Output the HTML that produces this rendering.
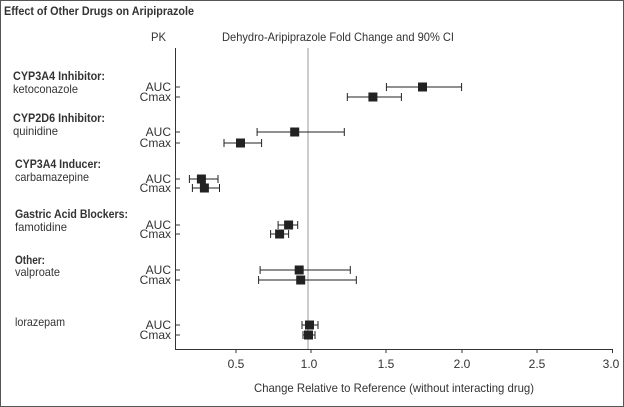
<!DOCTYPE html>
<html><head><meta charset="utf-8"><style>
html,body{margin:0;padding:0;background:#fff}
svg{display:block}
text{font-family:"Liberation Sans",sans-serif;fill:#333}
</style></head><body>
<svg width="624" height="407" viewBox="0 0 624 407" xmlns="http://www.w3.org/2000/svg">
<rect x="0.5" y="0.5" width="623" height="406" fill="#fff" stroke="#555" stroke-width="1"/>
<text x="4" y="15" font-size="12" font-weight="bold" textLength="190" lengthAdjust="spacingAndGlyphs">Effect of Other Drugs on Aripiprazole</text>
<text x="151" y="41" font-size="12" textLength="15" lengthAdjust="spacingAndGlyphs">PK</text>
<text x="222" y="41" font-size="12" textLength="232" lengthAdjust="spacingAndGlyphs">Dehydro-Aripiprazole Fold Change and 90% CI</text>
<g font-size="12">
<text x="13" y="80" font-weight="bold" textLength="92" lengthAdjust="spacingAndGlyphs">CYP3A4 Inhibitor:</text>
<text x="13" y="93" textLength="65" lengthAdjust="spacingAndGlyphs">ketoconazole</text>
<text x="13" y="122" font-weight="bold" textLength="92" lengthAdjust="spacingAndGlyphs">CYP2D6 Inhibitor:</text>
<text x="13" y="135" textLength="45" lengthAdjust="spacingAndGlyphs">quinidine</text>
<text x="15" y="168" font-weight="bold" textLength="86" lengthAdjust="spacingAndGlyphs">CYP3A4 Inducer:</text>
<text x="15" y="181" textLength="74" lengthAdjust="spacingAndGlyphs">carbamazepine</text>
<text x="15" y="218" font-weight="bold" textLength="113" lengthAdjust="spacingAndGlyphs">Gastric Acid Blockers:</text>
<text x="15" y="231" textLength="52" lengthAdjust="spacingAndGlyphs">famotidine</text>
<text x="15" y="264" font-weight="bold" textLength="30" lengthAdjust="spacingAndGlyphs">Other:</text>
<text x="15" y="276" textLength="45" lengthAdjust="spacingAndGlyphs">valproate</text>
<text x="15" y="326" textLength="50" lengthAdjust="spacingAndGlyphs">lorazepam</text>
</g>
<g font-size="12" text-anchor="end">
<text x="171" y="91">AUC</text><text x="171" y="101">Cmax</text>
<text x="171" y="136">AUC</text><text x="171" y="147">Cmax</text>
<text x="171" y="183">AUC</text><text x="171" y="192">Cmax</text>
<text x="171" y="229">AUC</text><text x="171" y="238">Cmax</text>
<text x="171" y="274">AUC</text><text x="171" y="284">Cmax</text>
<text x="171" y="329">AUC</text><text x="171" y="339">Cmax</text>
</g>
<line x1="308" y1="48" x2="308" y2="349" stroke="#bbb" stroke-width="1.5"/>
<g stroke="#333" stroke-width="1" fill="none">
<line x1="175.5" y1="48" x2="175.5" y2="349.5"/>
<line x1="175" y1="349.5" x2="613" y2="349.5"/>
<line x1="236" y1="349" x2="236" y2="353"/><line x1="311" y1="349" x2="311" y2="353"/>
<line x1="386" y1="349" x2="386" y2="353"/><line x1="462" y1="349" x2="462" y2="353"/>
<line x1="537" y1="349" x2="537" y2="353"/><line x1="612.5" y1="349" x2="612.5" y2="353"/>
<path d="M175 87h5M175 97h5M175 132h5M175 143h5M175 179h5M175 188h5M175 225h5M175 234h5M175 270h5M175 280h5M175 325h5M175 335h5"/>
</g>
<g stroke="#222" stroke-width="1" fill="none">
<path d="M386.4 87H461.6M386.4 83v8M461.6 83v8"/>
<path d="M347.3 97H401.4M347.3 93v8M401.4 93v8"/>
<path d="M257.1 132H344.3M257.1 128v8M344.3 128v8"/>
<path d="M224 143H261.6M224 139v8M261.6 139v8"/>
<path d="M189.4 179H218M189.4 175v8M218 175v8"/>
<path d="M192.4 188H219.5M192.4 184v8M219.5 184v8"/>
<path d="M278.1 225H297.7M278.1 221v8M297.7 221v8"/>
<path d="M270.6 234H288.6M270.6 230v8M288.6 230v8"/>
<path d="M260.1 270H350.3M260.1 266v8M350.3 266v8"/>
<path d="M258.6 280H356.3M258.6 276v8M356.3 276v8"/>
<path d="M302 325H318M302 321v8M318 321v8"/>
<path d="M303 335H315M303 331v8M315 331v8"/>
</g>
<g fill="#222">
<rect x="418" y="82.5" width="9" height="9"/>
<rect x="368.4" y="92.5" width="9" height="9"/>
<rect x="290.2" y="127.5" width="9" height="9"/>
<rect x="236" y="138.5" width="9" height="9"/>
<rect x="196.9" y="174.5" width="9" height="9"/>
<rect x="199.9" y="183.5" width="9" height="9"/>
<rect x="284.1" y="220.5" width="9" height="9"/>
<rect x="275.1" y="229.5" width="9" height="9"/>
<rect x="294.7" y="265.5" width="9" height="9"/>
<rect x="296.2" y="275.5" width="9" height="9"/>
<rect x="305" y="320.5" width="9" height="9"/>
<rect x="304" y="330.5" width="9" height="9"/>
</g>
<g font-size="12" text-anchor="middle">
<text x="236" y="368">0.5</text><text x="309" y="368">1.0</text><text x="386" y="368">1.5</text>
<text x="462" y="368">2.0</text><text x="537" y="368">2.5</text><text x="611" y="368">3.0</text>
<text x="394" y="392" textLength="280" lengthAdjust="spacingAndGlyphs">Change Relative to Reference (without interacting drug)</text>
</g>
</svg>
</body></html>
